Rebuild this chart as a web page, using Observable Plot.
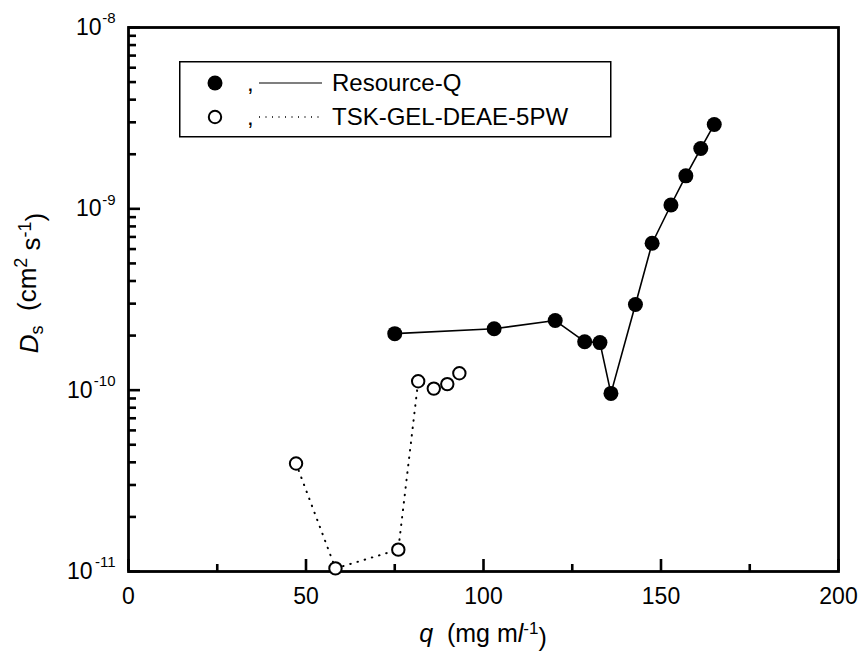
<!DOCTYPE html>
<html>
<head>
<meta charset="utf-8">
<script src="https://cdn.jsdelivr.net/npm/d3@7"></script>
<script src="https://cdn.jsdelivr.net/npm/@observablehq/plot@0.6"></script>
<style>
html, body { margin: 0; padding: 0; background: #fff; }
#wrap { position: relative; width: 859px; height: 652px; font-family: "Liberation Sans", Arial, sans-serif; }
#wrap > svg.overlay { position: absolute; pointer-events: none; }
</style>
</head>
<body>
<div id="wrap"></div>
<script>
// ---- data ----
const resourceQ_q = [75, 103, 120.2, 128.5, 132.8, 135.9, 142.8, 147.5, 152.8, 157.0, 161.2, 165.0];
const resourceQ_D = [2.05e-10, 2.18e-10, 2.42e-10, 1.85e-10, 1.83e-10, 9.6e-11, 2.97e-10, 6.46e-10, 1.05e-9, 1.52e-9, 2.15e-9, 2.92e-9];
const tsk_q = [47.2, 58.3, 76.0, 81.6, 86.0, 89.8, 93.2];
const tsk_D = [3.94e-11, 1.04e-11, 1.32e-11, 1.12e-10, 1.02e-10, 1.08e-10, 1.24e-10];
const seriesNames = ["Resource-Q", "TSK-GEL-DEAE-5PW"];
const xMajorTicks = [0, 50, 100, 150, 200];
const xMinorTicks = [25, 75, 125, 175];
const yMajorTicks = [1e-11, 1e-10, 1e-9, 1e-8];
const yMinorMultipliers = [2, 3, 4, 5, 6, 7, 8, 9];
const yMinorTicks = [];
yMajorTicks.slice(0, -1).forEach(p => yMinorMultipliers.forEach(k => yMinorTicks.push(k * p)));

const resQ = resourceQ_q.map((q, i) => ({q, D: resourceQ_D[i]}));
const tsk = tsk_q.map((q, i) => ({q, D: tsk_D[i]}));

const font = "Liberation Sans, Arial, sans-serif";
const W = 859, H = 652, mL = 128, mR = 21, mT = 27, mB = 81;

const expOf = d => String(Math.round(Math.log10(d)));
const yTicksShortExp = yMajorTicks.filter(d => expOf(d).length <= 2);
const yTicksLongExp = yMajorTicks.filter(d => expOf(d).length > 2);

const plot = Plot.plot({
  width: W,
  height: H,
  marginLeft: mL,
  marginRight: mR,
  marginTop: mT,
  marginBottom: mB,
  style: {fontFamily: font, color: "#000", background: "#fff", overflow: "visible"},
  x: {domain: [0, 200], label: null},
  y: {type: "log", domain: [1e-11, 1e-8], label: null},
  marks: [
    // inward ticks (axis ticks shifted into the frame)
    Plot.axisX({ticks: xMajorTicks, tickSize: 12, dy: -12, text: null, label: null, strokeWidth: 2.6}),
    Plot.axisX({ticks: xMinorTicks, tickSize: 7, dy: -7, text: null, label: null, strokeWidth: 2.6}),
    Plot.axisY({ticks: yMajorTicks, tickSize: 12, dx: 12, text: null, label: null, strokeWidth: 2.6}),
    Plot.axisY({ticks: yMinorTicks, tickSize: 8, dx: 8, text: null, label: null, strokeWidth: 2.6}),
    // x tick labels
    Plot.axisX({ticks: xMajorTicks, tickSize: 0, tickPadding: 16, fontSize: 23, tickFormat: d => String(d), label: null}),
    // y tick labels: exponent (superscript) and base "10"
    Plot.axisY({ticks: yMajorTicks, tickSize: 0, tickPadding: 13, dy: -9, fontSize: 15, tickFormat: expOf, label: null}),
    Plot.axisY({ticks: yTicksShortExp, tickSize: 0, tickPadding: 27, fontSize: 23, tickFormat: () => "10", label: null}),
    Plot.axisY({ticks: yTicksLongExp, tickSize: 0, tickPadding: 36, fontSize: 23, tickFormat: () => "10", label: null}),
    Plot.frame({stroke: "#000", strokeWidth: 2.8}),
    // TSK-GEL dotted line + open circles
    Plot.line(tsk, {x: "q", y: "D", stroke: "#000", strokeWidth: 2, strokeDasharray: "0.5,7", strokeLinecap: "round"}),
    Plot.dot(tsk, {x: "q", y: "D", r: 6.2, fill: "#fff", stroke: "#000", strokeWidth: 2}),
    // Resource-Q solid line + filled circles
    Plot.line(resQ, {x: "q", y: "D", stroke: "#000", strokeWidth: 1.6}),
    Plot.dot(resQ, {x: "q", y: "D", r: 7.5, fill: "#000", stroke: "none"})
  ]
});

const wrap = document.getElementById("wrap");
wrap.appendChild(plot);

// x-axis title (separate small svg below the plot)
const xs = d3.select(wrap).append("svg").attr("class", "overlay")
  .style("left", "300px").style("top", "612px")
  .attr("width", 366).attr("height", 40);
const xt = xs.append("text")
  .attr("x", 183).attr("y", 30)
  .attr("text-anchor", "middle")
  .attr("font-family", font).attr("font-size", 25)
  .style("white-space", "pre");
xt.append("tspan").attr("font-style", "italic").text("q");
xt.append("tspan").text("  (mg m");
xt.append("tspan").attr("font-style", "italic").text("l");
xt.append("tspan").attr("dy", "-0.5em").attr("font-size", 17).text("-1");
xt.append("tspan").attr("dy", "0.5em").text(")");

// y-axis title (separate small svg left of the plot)
const ys = d3.select(wrap).append("svg").attr("class", "overlay")
  .style("left", "0px").style("top", "150px")
  .attr("width", 62).attr("height", 270);
const yt = ys.append("text")
  .attr("transform", "translate(38,133) rotate(-90)")
  .attr("text-anchor", "middle")
  .attr("font-family", font).attr("font-size", 26)
  .style("white-space", "pre");
yt.append("tspan").attr("font-style", "italic").text("D");
yt.append("tspan").attr("dy", "0.3em").attr("font-size", 18).text("s");
yt.append("tspan").attr("dy", "-0.3em").text("  (cm");
yt.append("tspan").attr("dy", "-0.5em").attr("font-size", 18).text("2");
yt.append("tspan").attr("dy", "0.5em").text(" s");
yt.append("tspan").attr("dy", "-0.5em").attr("font-size", 18).text("-1");
yt.append("tspan").attr("dy", "0.5em").text(")");

// legend (inside plot area, as in the original figure)
const lg = d3.select(wrap).append("svg").attr("class", "overlay")
  .style("left", "179px").style("top", "61px")
  .attr("width", 433).attr("height", 77);
lg.append("rect").attr("x", 0.75).attr("y", 0.75).attr("width", 431).attr("height", 75)
  .attr("fill", "#fff").attr("stroke", "#000").attr("stroke-width", 1.5);
const rows = [
  {name: seriesNames[0], cy: 22, filled: true},
  {name: seriesNames[1], cy: 56, filled: false}
];
rows.forEach(r => {
  lg.append("circle").attr("cx", 36).attr("cy", r.cy).attr("r", r.filled ? 7.5 : 6.2)
    .attr("fill", r.filled ? "#000" : "#fff").attr("stroke", r.filled ? "none" : "#000").attr("stroke-width", 2);
  lg.append("text").attr("x", 68).attr("y", r.cy + 8).attr("font-family", font).attr("font-size", 24).text(",");
  lg.append("line").attr("x1", 80).attr("x2", 143).attr("y1", r.cy).attr("y2", r.cy)
    .attr("stroke", "#000").attr("stroke-width", r.filled ? 1.2 : 1.5)
    .attr("stroke-dasharray", r.filled ? null : "1,5.5");
  lg.append("text").attr("x", 153).attr("y", r.cy + 8).attr("font-family", font).attr("font-size", 24).text(r.name);
});
</script>
</body>
</html>
